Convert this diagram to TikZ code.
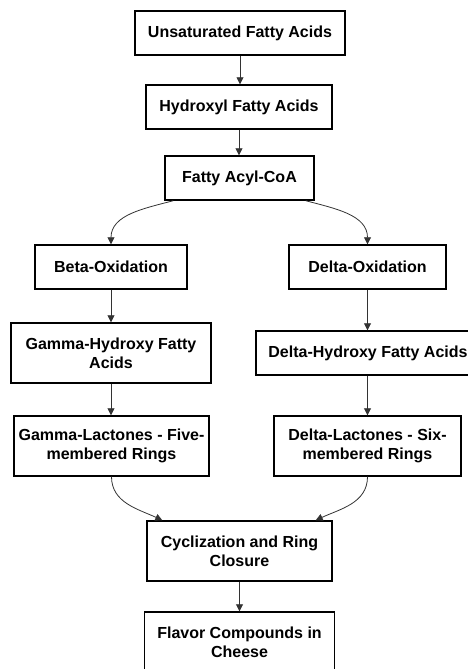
\documentclass[tikz,border=0pt]{standalone}
\usepackage{fontspec}
\setmainfont{Liberation Sans}
\usetikzlibrary{arrows.meta}
\begin{document}
\begin{tikzpicture}[x=1pt,y=1pt,
  box/.style={draw=black, line width=1.4pt, align=center, inner sep=0pt,
    font=\fontsize{16}{19}\selectfont\bfseries, text=black},
  conn/.style={draw=black!80, line width=0.8pt, -{Triangle[length=7pt,width=7pt]}}]
\useasboundingbox (0,0) rectangle (468,-669);
\clip (0,0) rectangle (468,-669);
\node[box, minimum width=210, minimum height=44] (ufa) at (240,-33) {Unsaturated Fatty Acids};
\node[box, minimum width=186, minimum height=44] (hfa) at (239,-107) {Hydroxyl Fatty Acids};
\node[box, minimum width=149, minimum height=44] (fac) at (239.5,-178) {Fatty Acyl-CoA};
\node[box, minimum width=152, minimum height=44] (box) at (111,-267) {Beta-Oxidation};
\node[box, minimum width=157, minimum height=44] (dox) at (367.5,-267) {Delta-Oxidation};
\node[box, minimum width=200, minimum height=60] (ghf) at (111,-353) {Gamma-Hydroxy Fatty\\Acids};
\node[box, minimum width=224, minimum height=44] (dhf) at (368,-353) {Delta-Hydroxy Fatty Acids};
\node[box, minimum width=195, minimum height=60] (gl) at (111.5,-446) {Gamma-Lactones - Five-\\membered Rings};
\node[box, minimum width=187, minimum height=60] (dl) at (367.5,-446) {Delta-Lactones - Six-\\membered Rings};
\node[box, minimum width=185, minimum height=60] (cyc) at (239.5,-551) {Cyclization and Ring\\Closure};
\node[box, minimum width=190, minimum height=60] (flv) at (239.5,-642) {Flavor Compounds in\\Cheese};
\draw[conn] (ufa.south) -- (ufa.south |- hfa.north);
\draw[conn] (hfa.south) -- (hfa.south |- fac.north);
\draw[conn] ([xshift=9]fac.south west) to[out=195,in=90] (box.north);
\draw[conn] ([xshift=-9]fac.south east) to[out=-15,in=90] (dox.north);
\draw[conn] (box.south) -- (box.south |- ghf.north);
\draw[conn] (ghf.south) -- (ghf.south |- gl.north);
\draw[conn] (dox.south) -- (dox.south |- dhf.north);
\draw[conn] (dox.south |- dhf.south) -- (dox.south |- dl.north);
\draw[conn] (gl.south) to[out=-90,in=155] ([xshift=16]cyc.north west);
\draw[conn] (dl.south) to[out=-90,in=25] ([xshift=-17]cyc.north east);
\draw[conn] (cyc.south) -- (cyc.south |- flv.north);
\end{tikzpicture}
\end{document}
